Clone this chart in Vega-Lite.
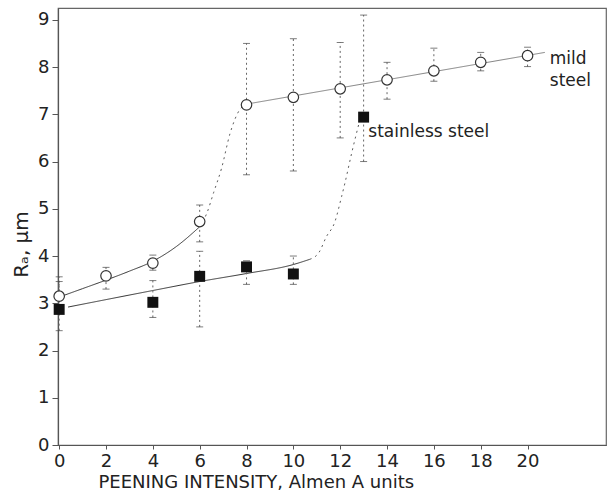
{
  "$schema": "https://vega.github.io/schema/vega-lite/v6.json",
  "width": 548,
  "height": 437,
  "autosize": {"type": "none"},
  "padding": {"left": 58, "top": 8, "right": 6, "bottom": 48},
  "background": "white",
  "config": {
    "view": {"stroke": "#666", "strokeWidth": 1.2},
    "font": "DejaVu Sans",
    "axis": {
      "domainColor": "#555",
      "domainWidth": 1.2,
      "tickColor": "#555",
      "grid": false,
      "labelColor": "#222",
      "titleColor": "#222",
      "labelFont": "DejaVu Sans",
      "titleFont": "DejaVu Sans",
      "labelFontSize": 18,
      "titleFontSize": 18,
      "titleFontWeight": "normal"
    }
  },
  "datasets": {
    "points": [
      {"series": "mild steel", "x": 0, "y": 3.15, "lo": 2.8, "hi": 3.56},
      {"series": "mild steel", "x": 2, "y": 3.58, "lo": 3.3, "hi": 3.76},
      {"series": "mild steel", "x": 4, "y": 3.85, "lo": 3.7, "hi": 4.02},
      {"series": "mild steel", "x": 6, "y": 4.73, "lo": 4.3, "hi": 5.08},
      {"series": "mild steel", "x": 8, "y": 7.2, "lo": 5.72, "hi": 8.5},
      {"series": "mild steel", "x": 10, "y": 7.36, "lo": 5.8, "hi": 8.6},
      {"series": "mild steel", "x": 12, "y": 7.54, "lo": 6.5, "hi": 8.52},
      {"series": "mild steel", "x": 14, "y": 7.73, "lo": 7.32, "hi": 8.1},
      {"series": "mild steel", "x": 16, "y": 7.92, "lo": 7.7, "hi": 8.4},
      {"series": "mild steel", "x": 18, "y": 8.1, "lo": 7.92, "hi": 8.31},
      {"series": "mild steel", "x": 20, "y": 8.24, "lo": 8.01, "hi": 8.42},
      {"series": "stainless steel", "x": 0, "y": 2.87, "lo": 2.42, "hi": 3.46},
      {"series": "stainless steel", "x": 4, "y": 3.02, "lo": 2.7, "hi": 3.48},
      {"series": "stainless steel", "x": 6, "y": 3.57, "lo": 2.5, "hi": 4.1},
      {"series": "stainless steel", "x": 8, "y": 3.77, "lo": 3.4, "hi": 3.9},
      {"series": "stainless steel", "x": 10, "y": 3.62, "lo": 3.4, "hi": 4.0},
      {"series": "stainless steel", "x": 13, "y": 6.94, "lo": 6.0, "hi": 9.1}
    ],
    "curves": [
      {"series": "mild steel", "part": "fit", "x": 0.05, "y": 3.14},
      {"series": "mild steel", "part": "fit", "x": 1, "y": 3.31},
      {"series": "mild steel", "part": "fit", "x": 2, "y": 3.49},
      {"series": "mild steel", "part": "fit", "x": 3, "y": 3.68},
      {"series": "mild steel", "part": "fit", "x": 4, "y": 3.89},
      {"series": "mild steel", "part": "fit", "x": 5, "y": 4.2},
      {"series": "mild steel", "part": "fit", "x": 6, "y": 4.62},
      {"series": "mild steel", "part": "transition", "x": 6, "y": 4.62},
      {"series": "mild steel", "part": "transition", "x": 6.3, "y": 4.9},
      {"series": "mild steel", "part": "transition", "x": 6.6, "y": 5.35},
      {"series": "mild steel", "part": "transition", "x": 6.93, "y": 5.85},
      {"series": "mild steel", "part": "transition", "x": 7.3, "y": 6.6},
      {"series": "mild steel", "part": "transition", "x": 7.7, "y": 7.09},
      {"series": "mild steel", "part": "transition", "x": 8.05, "y": 7.22},
      {"series": "mild steel", "part": "fit2", "x": 8.05, "y": 7.22},
      {"series": "mild steel", "part": "fit2", "x": 20.74, "y": 8.31},
      {"series": "stainless steel", "part": "fit", "x": 0.38, "y": 2.92},
      {"series": "stainless steel", "part": "fit", "x": 4, "y": 3.27},
      {"series": "stainless steel", "part": "fit", "x": 6, "y": 3.46},
      {"series": "stainless steel", "part": "fit", "x": 8, "y": 3.63},
      {"series": "stainless steel", "part": "fit", "x": 10, "y": 3.82},
      {"series": "stainless steel", "part": "fit", "x": 10.7, "y": 3.93},
      {"series": "stainless steel", "part": "transition", "x": 10.7, "y": 3.93},
      {"series": "stainless steel", "part": "transition", "x": 11.1, "y": 4.08},
      {"series": "stainless steel", "part": "transition", "x": 11.4, "y": 4.4},
      {"series": "stainless steel", "part": "transition", "x": 11.77, "y": 4.72},
      {"series": "stainless steel", "part": "transition", "x": 12.06, "y": 5.26},
      {"series": "stainless steel", "part": "transition", "x": 12.2, "y": 5.54},
      {"series": "stainless steel", "part": "transition", "x": 12.5, "y": 6.2},
      {"series": "stainless steel", "part": "transition", "x": 12.85, "y": 6.9}
    ],
    "labels": [
      {"text": "mild", "x": 20.95, "y": 8.17},
      {"text": "steel", "x": 20.95, "y": 7.7},
      {"text": "stainless steel", "x": 13.2, "y": 6.63}
    ]
  },
  "encoding": {
    "x": {
      "field": "x",
      "type": "quantitative",
      "scale": {"domain": [-0.05, 23.35], "nice": false, "zero": false},
      "axis": {
        "title": "PEENING INTENSITY, Almen A units",
        "values": [0, 2, 4, 6, 8, 10, 12, 14, 16, 18, 20],
        "tickSize": 4,
        "labelPadding": 3,
        "titleAnchor": "start",
        "titleX": 40,
        "titlePadding": 3
      }
    },
    "y": {
      "field": "y",
      "type": "quantitative",
      "scale": {"domain": [0, 9.25], "nice": false},
      "axis": {
        "title": "Rₐ, µm",
        "titleFontSize": 20,
        "titleY": 236,
        "values": [0, 1, 2, 3, 4, 5, 6, 7, 8, 9],
        "tickSize": 6,
        "labelPadding": 3,
        "titlePadding": 6
      }
    }
  },
  "layer": [
    {
      "data": {"name": "curves"},
      "mark": {"type": "line", "color": "#333", "strokeWidth": 1, "interpolate": "monotone"},
      "encoding": {
        "detail": {"field": "series"},
        "strokeDash": {
          "field": "part",
          "type": "nominal",
          "scale": {"domain": ["fit", "transition", "fit2"], "range": [[1, 0], [2, 4], [1, 0]]},
          "legend": null
        },
        "opacity": {
          "field": "part",
          "type": "nominal",
          "scale": {"domain": ["fit", "transition", "fit2"], "range": [1, 0.6, 1]},
          "legend": null
        }
      }
    },
    {
      "data": {"name": "points"},
      "mark": {"type": "rule", "color": "#666", "strokeWidth": 1, "strokeDash": [2, 3]},
      "encoding": {"y": {"field": "lo", "type": "quantitative"}, "y2": {"field": "hi"}}
    },
    {
      "data": {"name": "points"},
      "mark": {"type": "tick", "orient": "horizontal", "color": "#444", "size": 7, "thickness": 1},
      "encoding": {"y": {"field": "lo", "type": "quantitative"}}
    },
    {
      "data": {"name": "points"},
      "mark": {"type": "tick", "orient": "horizontal", "color": "#444", "size": 7, "thickness": 1},
      "encoding": {"y": {"field": "hi", "type": "quantitative"}}
    },
    {
      "data": {"name": "points"},
      "transform": [{"filter": "datum.series == 'mild steel'"}],
      "mark": {"type": "point", "shape": "circle", "size": 110, "filled": true, "fill": "white", "stroke": "#333", "strokeWidth": 1.2, "opacity": 1}
    },
    {
      "data": {"name": "points"},
      "transform": [{"filter": "datum.series == 'stainless steel'"}],
      "mark": {"type": "square", "size": 120, "color": "#111", "opacity": 1}
    },
    {
      "data": {"name": "labels"},
      "mark": {"type": "text", "align": "left", "baseline": "middle", "fontSize": 17, "color": "#222", "font": "DejaVu Sans"},
      "encoding": {"text": {"field": "text"}}
    }
  ]
}
